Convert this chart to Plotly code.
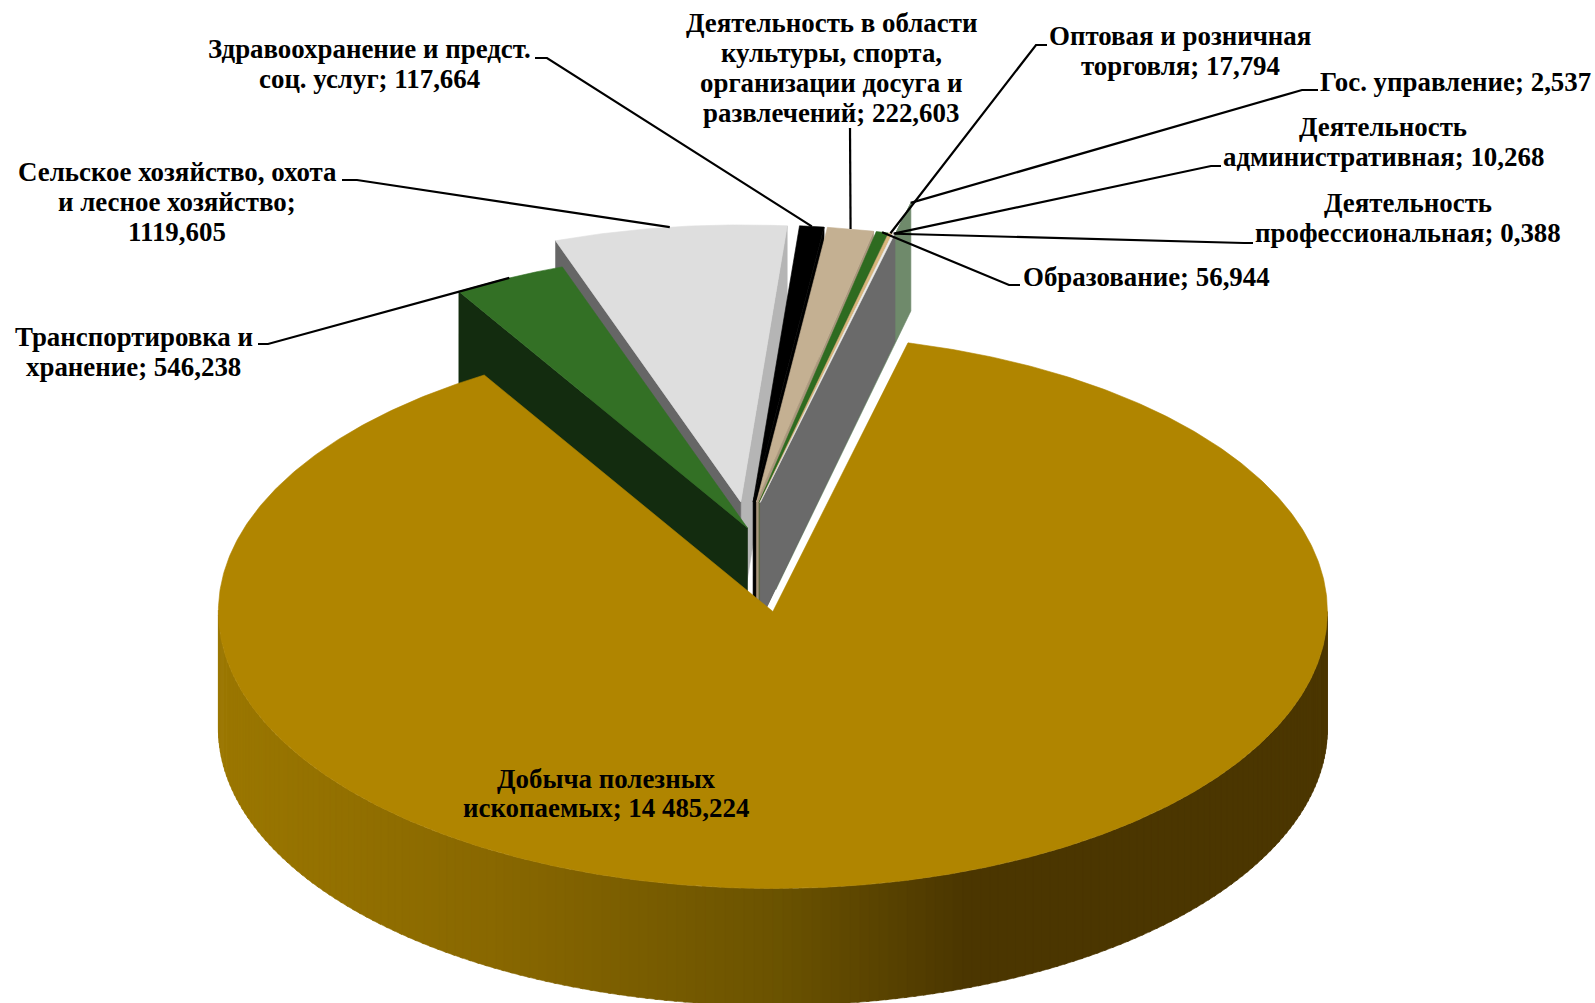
import math
import numpy as np
import plotly.graph_objects as go

# ---- data ----
categories = ["Добыча полезных ископаемых", "Транспортировка и хранение",
              "Сельское хозяйство, охота и лесное хозяйство",
              "Здравоохранение и предст. соц. услуг",
              "Деятельность в области культуры, спорта, организации досуга и развлечений",
              "Образование", "Оптовая и розничная торговля",
              "Деятельность административная", "Деятельность профессиональная",
              "Гос. управление"]
values = [14485.224, 546.238, 1119.605, 117.664, 222.603,
          56.944, 17.794, 10.268, 0.388, 2.537]
value_labels = ["14 485,224", "546,238", "1119,605", "117,664", "222,603",
                "56,944", "17,794", "10,268", "0,388", "2,537"]

# ---- styling and layout ----
FIRST_ANGLE = 14.1
CX, CY, RX, RY = 747.5, 528.0, 554.5, 277.0
APEX_DEPTH, EDGE_DEPTH, RIM_DEPTH = 118.0, 108.0, 117.0
explode = [0.305, 0.0, 0.095, 0.095, 0.095, 0.095, 0.095, 0.095, 0.095, 0.21]
top_col = ["#b08500", "#337025", "#dedede", "#000000", "#c4b092",
           "#2e6b20", "#d8b57c", "#ececec", "#d8b57c", "#6f8a6b"]
right_wall = [None, None, "#b5b5b5", "#000000", "#a8967c",
              "#1d4a14", "#a8905f", "#6a6a6a", "#6a6a6a", "#6f8a6b"]
left_wall = [None, "#132c0f", "#666666", None, None, None, None, None, None, None]
draw_order = [2, 1, 9, 3, 4, 5, 6, 8, 7, 0]

FONT = "Liberation Serif, Times New Roman, serif"
FS = 26.9

label_lines = [
    [("Добыча полезных", 606, 778.5), ("ископаемых; 14 485,224", 606, 807.5)],
    [("Транспортировка и", 133.5, 337), ("хранение; 546,238", 133.5, 367)],
    [("Сельское хозяйство, охота", 177, 172), ("и лесное хозяйство;", 177, 202), ("1119,605", 177, 232)],
    [("Здравоохранение и предст.", 369, 49), ("соц. услуг; 117,664", 369, 79)],
    [("Деятельность в области", 831, 22.5), ("культуры, спорта,", 831, 53),
     ("организации досуга и", 831, 83), ("развлечений; 222,603", 831, 113)],
    [("Образование; 56,944", 1146, 276.5)],
    [("Оптовая и розничная", 1180, 36), ("торговля; 17,794", 1180, 66)],
    [("Деятельность", 1383, 127), ("административная; 10,268", 1383, 157)],
    [("Деятельность", 1408, 203), ("профессиональная; 0,388", 1408, 233)],
    [("Гос. управление; 2,537", 1455, 81.5)],
]
# label-side end of each leader: stub start, stub end
leader_stub = [None, [(258, 344), (268, 344)], [(342, 180), (357, 180)], [(535, 58), (547, 58)],
               [(850, 128)], [(1020, 285), (1009, 285)], [(1047, 45), (1036, 45)],
               [(1221, 166), (1211, 166)], [(1253, 243), (1244, 243)], [(1318, 90), (1302, 90)]]

# ---- geometry derived from the values ----
total = sum(values)
sweeps = [v / total * 360.0 for v in values]
starts = [FIRST_ANGLE + sum(sweeps[:i]) for i in range(len(values))]


def pt(t_deg, r=1.0):
    t = math.radians(t_deg)
    return RX * r * math.sin(t), -RY * r * math.cos(t)


def apex(i):
    dx, dy = pt(starts[i] + sweeps[i] / 2, explode[i])
    return CX + dx, CY + dy


def rim(i, t_deg):
    ax, ay = apex(i)
    dx, dy = pt(t_deg)
    return ax + dx, ay + dy


fig = go.Figure()


def poly(pts, color):
    xs = [p[0] for p in pts] + [pts[0][0]]
    ys = [p[1] for p in pts] + [pts[0][1]]
    fig.add_trace(go.Scatter(x=xs, y=ys, mode="lines", fill="toself", fillcolor=color,
                             line=dict(color=color, width=0.6), hoverinfo="skip", showlegend=False))


def wall_color(x):
    stops = [(219, (155, 119, 0)), (500, (136, 103, 0)), (773, (107, 83, 0)),
             (965, (75, 54, 0)), (1330, (75, 54, 0))]
    for (x0, c0), (x1, c1) in zip(stops, stops[1:]):
        if x <= x1:
            f = max(0.0, (x - x0) / (x1 - x0))
            return "rgb(%d,%d,%d)" % tuple(round(a + (b - a) * f) for a, b in zip(c0, c1))
    return "rgb(75,54,0)"


for i in draw_order:
    ax, ay = apex(i)
    t0, t1 = starts[i], starts[i] + sweeps[i]
    if i == 0:
        # outer wall: front half of the rim, in narrow shaded strips
        edges = np.linspace(90, 270, 181)
        for a, b in zip(edges[:-1], edges[1:]):
            p, q = rim(i, a), rim(i, b + 0.3)
            poly([p, q, (q[0], q[1] + RIM_DEPTH), (p[0], p[1] + RIM_DEPTH)], wall_color((p[0] + q[0]) / 2))
    if right_wall[i]:
        p = rim(i, t1)
        poly([(ax, ay), p, (p[0], p[1] + EDGE_DEPTH), (ax, ay + APEX_DEPTH)], right_wall[i])
    if left_wall[i]:
        p = rim(i, t0)
        poly([(ax, ay), p, (p[0], p[1] + EDGE_DEPTH), (ax, ay + APEX_DEPTH)], left_wall[i])
    arc = [rim(i, t) for t in np.linspace(t0, t1, max(2, int(sweeps[i] * 2) + 2))]
    poly([(ax, ay)] + arc, top_col[i])

# leaders
for i, stub in enumerate(leader_stub):
    if not stub:
        continue
    end = rim(i, starts[i] + sweeps[i] / 2)
    pts = stub + [end]
    fig.add_trace(go.Scatter(x=[p[0] for p in pts], y=[p[1] for p in pts], mode="lines",
                             line=dict(color="black", width=2.2), hoverinfo="skip", showlegend=False))

# labels
for lines in label_lines:
    for text, x, y in lines:
        fig.add_annotation(x=x, y=y, xref="x", yref="y", text="<b>%s</b>" % text, showarrow=False,
                           xanchor="center", yanchor="middle",
                           font=dict(family=FONT, size=FS, color="black"))

fig.update_layout(width=1595, height=1003, margin=dict(l=0, r=0, t=0, b=0),
                  plot_bgcolor="white", paper_bgcolor="white", showlegend=False,
                  xaxis=dict(range=[0, 1595], visible=False, fixedrange=True),
                  yaxis=dict(range=[1003, 0], visible=False, fixedrange=True))
fig.write_html("out.html", config={"displayModeBar": False},
               post_script="document.body.style.margin='0';document.body.style.overflow='hidden';")
